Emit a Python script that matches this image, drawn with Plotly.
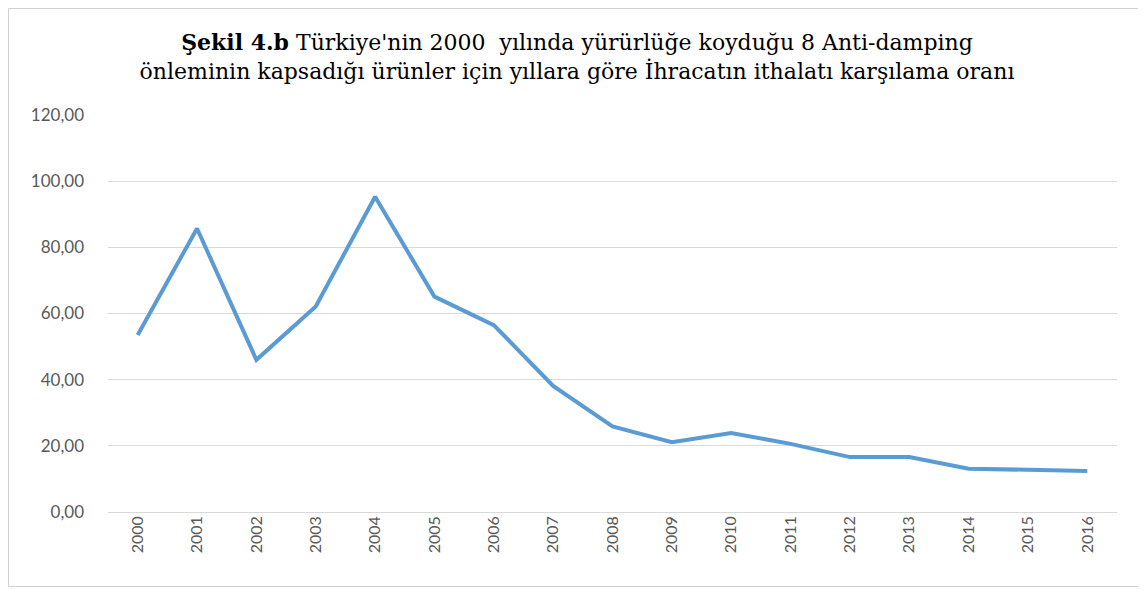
import plotly.graph_objects as go

# yıllara göre ihracatın ithalatı karşılama oranı (%)
years = [str(y) for y in range(2000, 2017)]
ratio = [53.5, 85.7, 46.0, 62.1, 95.3, 65.1, 56.5, 38.1, 25.9,
         21.1, 23.9, 20.6, 16.6, 16.6, 13.1, 12.9, 12.4]

y_ticks = [0, 20, 40, 60, 80, 100, 120]
y_tick_labels = ["0,00", "20,00", "40,00", "60,00", "80,00", "100,00", "120,00"]

title_text = ("<b>Şekil 4.b</b> Türkiye'nin 2000  yılında yürürlüğe koyduğu 8 Anti-damping<br>"
              "önleminin kapsadığı ürünler için yıllara göre İhracatın ithalatı karşılama oranı")

# sayfa gövdesinin 8px varsayılan kenar boşluğu yüzünden figür biraz küçük
W, H = 1138, 582
ml, mr, mt, mb = 100, 29, 107, 78

fig = go.Figure(go.Scatter(
    x=years, y=ratio, mode="lines",
    line=dict(color="#5B9BD5", width=4),
    hoverinfo="x+y",
))

pw, ph = W - ml - mr, H - mt - mb
def px(x): return (x - ml) / pw
def py(y): return (H - mb - y) / ph

# dış çerçeve
fig.add_shape(type="rect", xref="paper", yref="paper",
              x0=px(0.5), x1=px(1131.5), y0=py(578.5), y1=py(0.5),
              line=dict(color="#D0D0D0", width=1), layer="below")

fig.update_layout(
    width=W, height=H,
    margin=dict(l=ml, r=mr, t=mt, b=mb),
    paper_bgcolor="white", plot_bgcolor="white",
    showlegend=False,
    title=dict(text=title_text, x=0.5, xanchor="center", y=1 - 42 / H, yanchor="top",
               font=dict(family="DejaVu Serif", size=22, color="#000000")),
    font=dict(family="Lato", color="#595959"),
)
fig.update_xaxes(type="category", tickangle=-90, showgrid=False, showline=False,
                 ticks="", tickfont=dict(size=16, color="#595959"), range=[-0.5, 16.5])
fig.update_yaxes(range=[0, 120], tickvals=y_ticks, ticktext=y_tick_labels,
                 showgrid=True, gridcolor="#D9D9D9", gridwidth=1.3, zeroline=True,
                 zerolinecolor="#D9D9D9", zerolinewidth=1.3, showline=False, ticks="",
                 ticklabelstandoff=23, tickfont=dict(size=17, color="#595959"))

fig.write_html("out.html")
